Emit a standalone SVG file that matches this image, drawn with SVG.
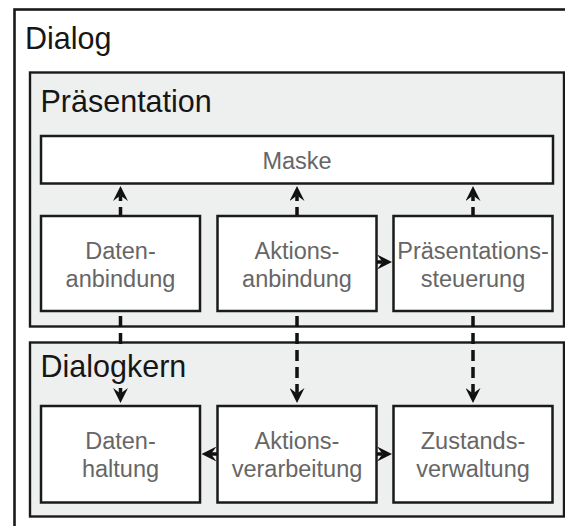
<svg xmlns="http://www.w3.org/2000/svg" width="565" height="526" viewBox="0 0 565 526">
  <style>
    .frame { fill: #ffffff; stroke: #1a1a1a; stroke-width: 2.6; }
    .layer { fill: #eeefef; stroke: #1a1a1a; stroke-width: 2.4; }
    .box { fill: #ffffff; stroke: #1a1a1a; stroke-width: 2.5; }
    .title { font-family: "Liberation Sans", Arial, sans-serif; font-size: 30.5px; fill: #161616; }
    .label { font-family: "Liberation Sans", Arial, sans-serif; font-size: 23.5px; fill: #666666; text-anchor: middle; }
    .flow { fill: none; stroke: #111111; stroke-width: 3.5; marker-end: url(#head); }
    .up { stroke-dasharray: 8 6; }
    .down { stroke-dasharray: 11 6; }
  </style>
  <defs>
    <marker id="head" viewBox="0 0 15 15" refX="5.5" refY="7.5" markerWidth="15" markerHeight="15" markerUnits="userSpaceOnUse" orient="auto">
      <path d="M0,0 L15,7.5 L0,15 L5.5,7.5 Z" fill="#111111"/>
    </marker>
  </defs>

  <!-- outer frame -->
  <g id="dialog">
    <rect class="frame" x="14.5" y="9.5" width="620" height="620"/>
    <text class="title" x="25" y="49">Dialog</text>
  </g>

  <!-- presentation layer -->
  <g id="praesentation">
    <rect class="layer" x="30" y="72.5" width="534" height="254"/>
    <text class="title" x="40.5" y="111.5">Präsentation</text>
  </g>

  <!-- dialog core layer -->
  <g id="dialogkern">
    <rect class="layer" x="30" y="342.5" width="534" height="174"/>
  </g>

  <g id="maske">
    <rect class="box" x="41" y="136" width="512" height="47.5"/>
    <text class="label" x="297" y="168.5">Maske</text>
  </g>

  <g id="datenanbindung">
    <rect class="box" x="41" y="216" width="159" height="95"/>
    <text class="label" x="120.5" y="258.5">Daten-</text>
    <text class="label" x="120.5" y="286.5">anbindung</text>
  </g>

  <g id="aktionsanbindung">
    <rect class="box" x="217.5" y="216" width="159" height="95"/>
    <text class="label" x="297" y="258.5">Aktions-</text>
    <text class="label" x="297" y="286.5">anbindung</text>
  </g>

  <g id="praesentationssteuerung">
    <rect class="box" x="393.5" y="216" width="159" height="95"/>
    <text class="label" x="473" y="258.5">Präsentations-</text>
    <text class="label" x="473" y="286.5">steuerung</text>
  </g>

  <g id="datenhaltung">
    <rect class="box" x="41" y="406" width="159" height="96.5"/>
    <text class="label" x="120.5" y="449">Daten-</text>
    <text class="label" x="120.5" y="477">haltung</text>
  </g>

  <g id="aktionsverarbeitung">
    <rect class="box" x="217.5" y="406" width="159" height="96.5"/>
    <text class="label" x="297" y="449">Aktions-</text>
    <text class="label" x="297" y="477">verarbeitung</text>
  </g>

  <g id="zustandsverwaltung">
    <rect class="box" x="393.5" y="406" width="159" height="96.5"/>
    <text class="label" x="473" y="449">Zustands-</text>
    <text class="label" x="473" y="477">verwaltung</text>
  </g>

  <!-- connectors -->
  <g id="connectors">
    <!-- up into the mask -->
    <line class="flow up" x1="120.5" y1="215" x2="120.5" y2="195.5"/>
    <line class="flow up" x1="297" y1="215" x2="297" y2="195.5"/>
    <line class="flow up" x1="473" y1="215" x2="473" y2="195.5"/>
    <!-- down into the dialog core; the left one breaks around the layer title -->
    <path class="flow" d="M120.5,316 V327 M120.5,333 V344 M120.5,388 V393.5"/>
    <line class="flow down" x1="297" y1="316" x2="297" y2="393.5"/>
    <line class="flow down" x1="473" y1="316" x2="473" y2="393.5"/>
    <!-- sideways -->
    <line class="flow" x1="377" y1="262" x2="382.5" y2="262"/>
    <line class="flow" x1="217" y1="454" x2="211" y2="454"/>
    <line class="flow" x1="377" y1="454" x2="382.5" y2="454"/>
  </g>

  <!-- layer title drawn above the connector that passes behind it -->
  <text class="title" x="40.5" y="376.5">Dialogkern</text>
</svg>
